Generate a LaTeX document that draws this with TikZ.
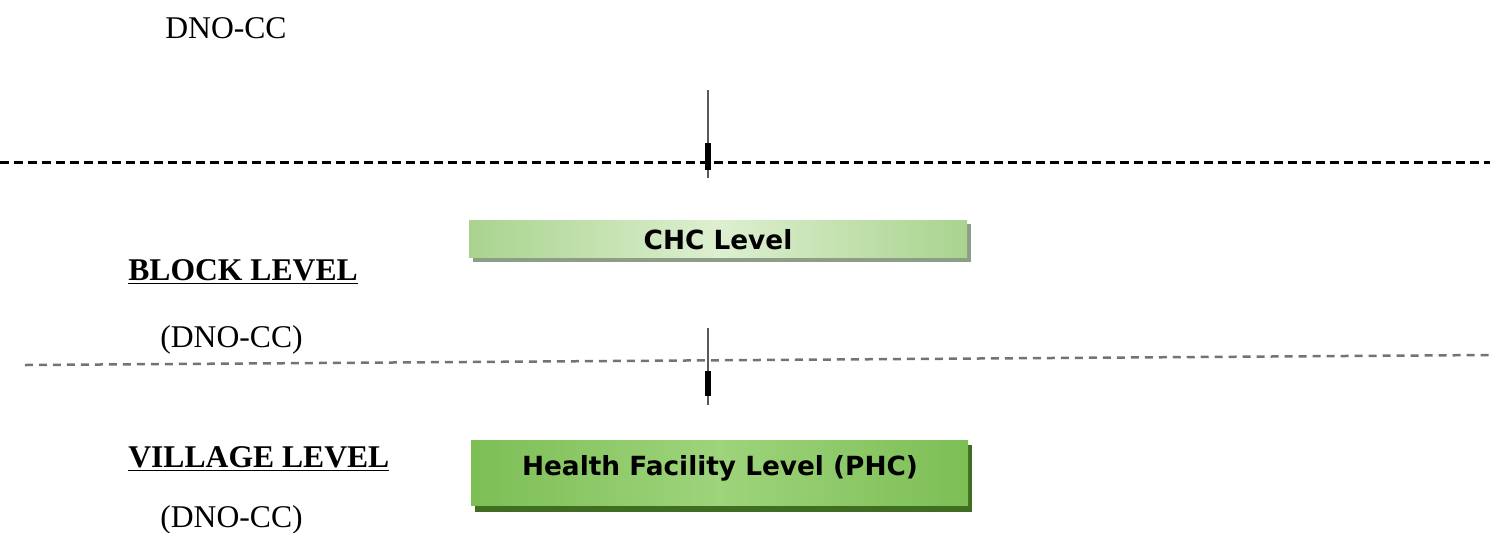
\documentclass[tikz,border=0pt]{standalone}
\usepackage{fontspec}
\setmainfont{Liberation Serif}
\newfontfamily\boxfont{DejaVu Sans}
\usetikzlibrary{shadings}

\definecolor{chcEdge}{HTML}{A9D38E}
\definecolor{chcMid}{HTML}{DDEFD0}
\definecolor{chcShadow}{HTML}{8E9E86}
\definecolor{phcEdge}{HTML}{7DBE55}
\definecolor{phcMid}{HTML}{9ED47C}
\definecolor{phcShadow}{HTML}{3F6D22}

\tikzset{
  levelline/.style={line width=0.06cm, dash pattern=on 0.18cm off 0.1cm},
  downline/.style={line width=0.04cm, draw=black!65},
  downhead/.style={line width=0.11cm, draw=black},
  lbl/.style={anchor=base west, inner sep=0pt, font=\fontsize{18}{20}\selectfont},
  boxlbl/.style={inner sep=0pt, font=\boxfont\bfseries\fontsize{15}{17}\selectfont}
}

\begin{document}
\begin{tikzpicture}[x=0.02cm, y=-0.02cm]
    % page frame (1 unit = 1 px, y downwards)
    \useasboundingbox (0,0) rectangle (1490,532);

    % Texts on the left
    \node[lbl] (dnoTop) at (165,38) {DNO-CC};
    \node[lbl] (blockLbl) at (128,280) {\textbf{\underline{BLOCK LEVEL}}};
    \node[lbl] (blockDno) at (160,347) {(DNO-CC)};
    \node[lbl] (villageLbl) at (128,467) {\textbf{\underline{VILLAGE LEVEL}}};
    \node[lbl] (villageDno) at (160,527) {(DNO-CC)};

    % Level separators
    \coordinate (sepA_l) at (0,162);
    \coordinate (sepA_r) at (1490,162);
    \draw[levelline, black] (sepA_l) -- (sepA_r);

    \coordinate (sepB_l) at (25,365);
    \coordinate (sepB_r) at (1490,355);
    \draw[levelline, black!55, line width=0.05cm, dash pattern=on 0.16cm off 0.12cm] (sepB_l) -- (sepB_r);

    % CHC box (shadow first, then the bar)
    \fill[chcShadow] (473,224) rectangle (971,262);
    \shade[left color=chcEdge, right color=chcEdge, middle color=chcMid] (469,220) rectangle (967,257);
    \node[boxlbl] (chc) at (718,240) {CHC Level};

    % PHC box
    \fill[phcShadow] (475,445) rectangle (972,512);
    \shade[left color=phcEdge, right color=phcEdge, middle color=phcMid] (471,440) rectangle (968,505);
    \node[boxlbl] (phc) at (720,468) {Health Facility Level (PHC)};

    % Down markers crossing the separators
    \coordinate (downA_t) at (708,90);
    \coordinate (downA_b) at (708,178);
    \coordinate (headA_t) at (708,143);
    \coordinate (headA_b) at (708,170);
    \draw[downline] (downA_t) -- (downA_b);
    \draw[downhead] (headA_t) -- (headA_b);

    \coordinate (downB_t) at (708,328);
    \coordinate (downB_b) at (708,405);
    \coordinate (headB_t) at (708,371);
    \coordinate (headB_b) at (708,396);
    \draw[downline] (downB_t) -- (downB_b);
    \draw[downhead] (headB_t) -- (headB_b);
\end{tikzpicture}
\end{document}
